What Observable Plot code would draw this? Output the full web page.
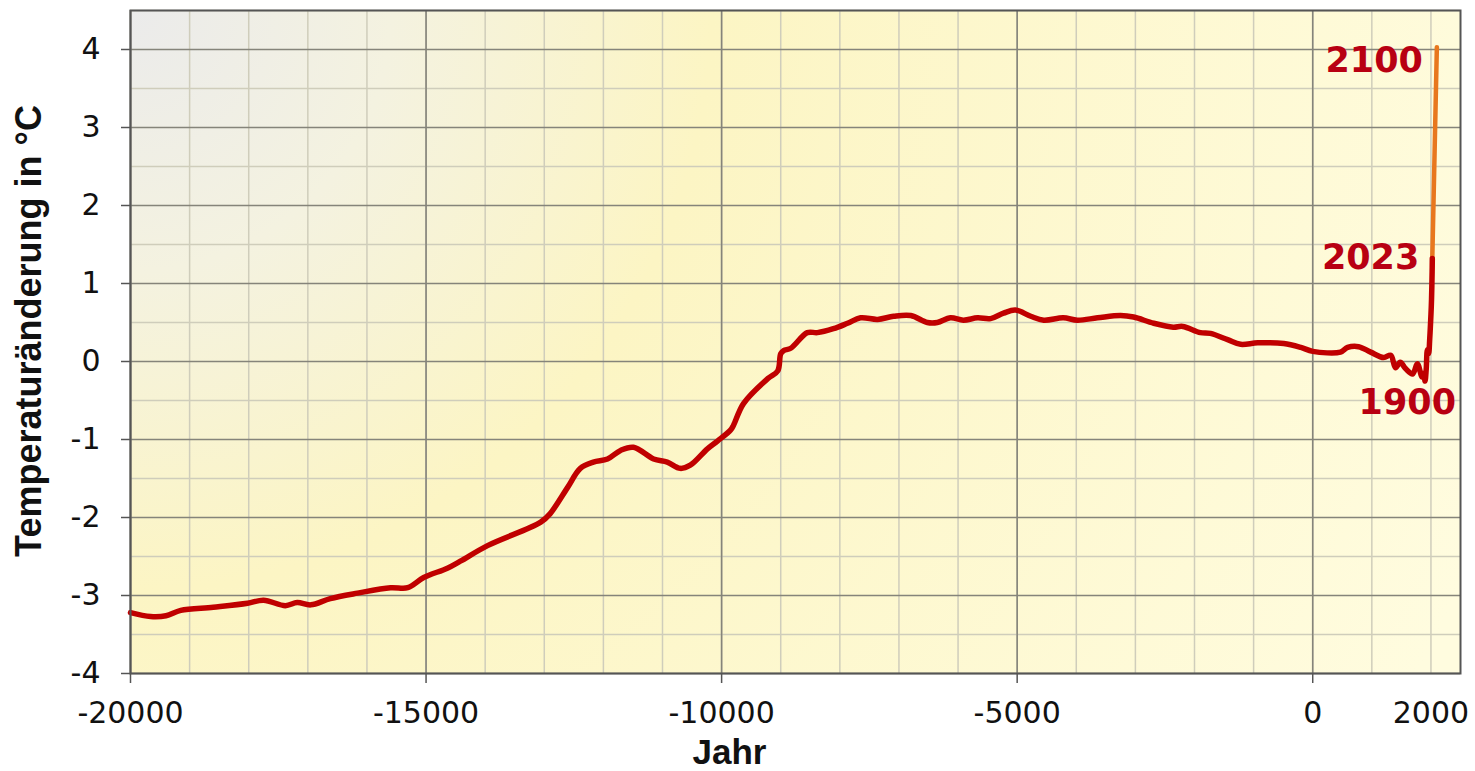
<!DOCTYPE html>
<html>
<head>
<meta charset="utf-8">
<script src="https://cdn.jsdelivr.net/npm/d3@7"></script>
<script src="https://cdn.jsdelivr.net/npm/@observablehq/plot@0.6"></script>
<style>
  html, body { margin: 0; padding: 0; background: #ffffff; }
  svg { display: block; }
</style>
</head>
<body>
<div id="chart"></div>
<script>
// ---- data ----
const years = [
  -20000, -19660, -19400, -19150, -18600, -18020, -17750, -17380, -17180, -16950,
  -16620, -16160, -15600, -15310, -15040, -14640, -14420, -13960, -13060, -12900,
  -12610, -12390, -12170, -11930, -11710, -11490, -11150, -10920, -10700, -10530,
  -10240, -10070, -9850, -9800, -9630, -9220, -9050, -9000, -8950, -8830,
  -8550, -8380, -8110, -7870, -7650, -7360, -7090, -6800, -6520, -6350,
  -6130, -5910, -5670, -5450, -5230, -5030, -4770, -4550, -4220, -3980,
  -3640, -3250, -3030, -2690, -2360, -2200, -1900, -1730, -1440, -1220,
  -930, -490, -200, 0, 470, 590, 775, 980, 1200, 1320,
  1400, 1480, 1570, 1690, 1770, 1850, 1880, 1900, 1920, 1940,
  1960, 1980, 2000, 2010, 2020, 2023
];
const temps = [
  -3.22, -3.27, -3.26, -3.19, -3.15, -3.10, -3.06, -3.13, -3.09, -3.12,
  -3.04, -2.97, -2.90, -2.90, -2.77, -2.65, -2.56, -2.36, -2.06, -1.95,
  -1.62, -1.37, -1.29, -1.25, -1.14, -1.10, -1.25, -1.29, -1.37, -1.33,
  -1.12, -1.02, -0.88, -0.82, -0.54, -0.22, -0.12, 0.10, 0.14, 0.17,
  0.37, 0.37, 0.42, 0.49, 0.56, 0.54, 0.58, 0.59, 0.50, 0.50,
  0.56, 0.53, 0.56, 0.55, 0.62, 0.66, 0.58, 0.53, 0.56, 0.53,
  0.56, 0.59, 0.57, 0.49, 0.44, 0.45, 0.37, 0.36, 0.28, 0.22,
  0.24, 0.23, 0.18, 0.13, 0.12, 0.18, 0.19, 0.12, 0.05, 0.08,
  -0.08, -0.01, -0.09, -0.16, -0.03, -0.20, -0.15, -0.25, -0.10, 0.15,
  0.10, 0.30, 0.60, 0.80, 1.15, 1.32
];
const projYears = [2023, 2100];
const projTemps = [1.32, 4.03];

const labelTexts = ["2100", "2023", "1900"];
const labelYears = [2100, 2023, 1900];
const labelTemps = [4.03, 1.32, -0.25];

const xMajorTicks = [-20000, -15000, -10000, -5000, 0];
const xExtraTicks = [2000];
const yTicks = [-4, -3, -2, -1, 0, 1, 2, 3, 4];
const xMinorGrid = d3.range(-19000, 2001, 1000);
const yMinorGrid = d3.range(-3.5, 4.51, 1);

const xTitle = "Jahr";
const yTitle = "Temperaturänderung in °C";

// ---- tables built from the arrays ----
const past = years.map((y, i) => ({year: y, t: temps[i]}));
const proj = projYears.map((y, i) => ({year: y, t: projTemps[i]}));
const labels = labelTexts.map((s, i) => ({text: s, year: labelYears[i], t: labelTemps[i]}));

const red = "#c00000";
const orange = "#e8771e";
const labelRed = "#b80012";
const labelFont = "'DejaVu Sans', Verdana, sans-serif";

const chart = Plot.plot({
  width: 1475,
  height: 771,
  marginLeft: 130,
  marginRight: 15,
  marginTop: 10,
  marginBottom: 98,
  style: {fontFamily: "'DejaVu Sans', Verdana, sans-serif", fontSize: "30px", color: "#111111", background: "#ffffff"},
  x: {domain: [-20000, 2500]},
  y: {domain: [-4, 4.5]},
  marks: [
    Plot.frame({fill: "url(#bgGrad)", stroke: "none"}),
    Plot.gridX(xMinorGrid, {stroke: "#cfcdbb", strokeOpacity: 1, strokeWidth: 1.5}),
    Plot.gridY(yMinorGrid, {stroke: "#cfcdbb", strokeOpacity: 1, strokeWidth: 1.5}),
    Plot.gridX(xMajorTicks.concat([-20000]), {stroke: "#85847a", strokeOpacity: 1, strokeWidth: 1.6}),
    Plot.gridY(yTicks, {stroke: "#85847a", strokeOpacity: 1, strokeWidth: 1.6}),
    Plot.line(proj, {x: "year", y: "t", stroke: orange, strokeWidth: 4.5}),
    Plot.line(past, {x: "year", y: "t", stroke: red, strokeWidth: 5.5, curve: "catmull-rom", strokeLinejoin: "round", strokeLinecap: "round"}),
    Plot.text(labels.filter(d => d.text === "2100"), {x: "year", y: "t", text: "text", textAnchor: "end", dx: -14, dy: 14,
      fill: labelRed, fontWeight: "bold", fontSize: 35, fontFamily: labelFont}),
    Plot.text(labels.filter(d => d.text === "2023"), {x: "year", y: "t", text: "text", textAnchor: "end", dx: -13, dy: -1,
      fill: labelRed, fontWeight: "bold", fontSize: 35, fontFamily: labelFont}),
    Plot.text(labels.filter(d => d.text === "1900"), {x: "year", y: "t", text: "text", textAnchor: "end", dx: 31, dy: 22,
      fill: labelRed, fontWeight: "bold", fontSize: 35, fontFamily: labelFont}),
    Plot.frame({stroke: "#555555", strokeWidth: 2}),
    Plot.axisY(yTicks, {tickSize: 9, tickPadding: 21, stroke: "#555555", strokeWidth: 1.5, label: null, tickFormat: d => String(d)}),
    Plot.axisX(xMajorTicks, {tickSize: 10, tickPadding: 18, stroke: "#555555", strokeWidth: 1.5, label: null, tickFormat: d => String(d)}),
    Plot.axisX(xExtraTicks, {tickSize: 0, tickPadding: 28, label: null, tickFormat: d => String(d)}),
    Plot.text([yTitle], {frameAnchor: "left", rotate: -90, dx: -101, dy: -11, lineAnchor: "middle", textAnchor: "middle",
      fontWeight: "bold", fontSize: 36, fontFamily: "'Liberation Sans', Arial, sans-serif", fill: "#111111"}),
    Plot.text([xTitle], {frameAnchor: "bottom", dx: -66, dy: 79, lineAnchor: "middle", textAnchor: "middle",
      fontWeight: "bold", fontSize: 35, fontFamily: "'Liberation Sans', Arial, sans-serif", fill: "#111111"})
  ]
});

// background gradient used by the frame fill
const svg = d3.select(chart);
const defs = svg.insert("defs", ":first-child");
const grad = defs.append("radialGradient")
  .attr("id", "bgGrad")
  .attr("gradientUnits", "userSpaceOnUse")
  .attr("cx", 130).attr("cy", 10).attr("r", 1450);
grad.append("stop").attr("offset", "0").attr("stop-color", "#ebebeb");
grad.append("stop").attr("offset", "0.18").attr("stop-color", "#f4f2e0");
grad.append("stop").attr("offset", "0.4").attr("stop-color", "#fcf5c4");
grad.append("stop").attr("offset", "1").attr("stop-color", "#fffcdf");

document.getElementById("chart").appendChild(chart);
</script>
</body>
</html>
